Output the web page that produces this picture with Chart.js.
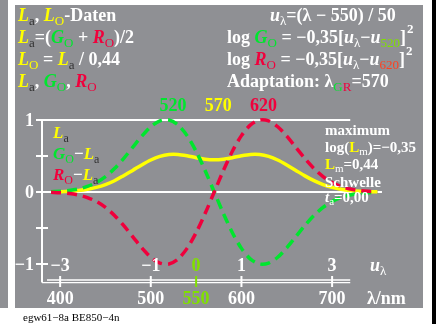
<!DOCTYPE html>
<html><head><meta charset="utf-8">
<script src="https://cdn.jsdelivr.net/npm/chart.js@4"></script>
<style>html,body{margin:0;padding:0;background:#fff;overflow:hidden}#c{display:block}</style>
</head><body>
<canvas id="c" width="436" height="324"></canvas>
<script>
// ---- data ----
const wavelengths = [390,400,410,420,430,440,450,460,470,480,490,500,510,520,530,540,550,560,570,580,590,600,610,620,630,640,650,660,670,680,690,700,710,720,730,740,750];
const La = [0.002,0.005,0.010,0.020,0.037,0.064,0.103,0.157,0.227,0.300,0.376,0.444,0.494,0.520,0.521,0.503,0.477,0.455,0.447,0.455,0.477,0.503,0.521,0.520,0.494,0.444,0.376,0.300,0.224,0.157,0.103,0.064,0.037,0.020,0.010,0.005,0.002];
const GoMinusLa = [0.005,0.010,0.021,0.041,0.077,0.132,0.215,0.326,0.465,0.620,0.775,0.906,0.987,1.000,0.932,0.783,0.565,0.296,0.000,-0.296,-0.565,-0.783,-0.932,-1.000,-0.987,-0.906,-0.775,-0.620,-0.465,-0.326,-0.215,-0.132,-0.077,-0.041,-0.021,-0.010,-0.005];
const RoMinusLa = [-0.005,-0.010,-0.021,-0.041,-0.077,-0.132,-0.215,-0.326,-0.465,-0.620,-0.775,-0.906,-0.987,-1.000,-0.932,-0.783,-0.565,-0.296,0.000,0.296,0.565,0.783,0.932,1.000,0.987,0.906,0.775,0.620,0.465,0.326,0.215,0.132,0.077,0.041,0.021,0.010,0.005];
const xTickValues = [400,500,550,600,700];
const xTickLabels = ['400','500','550','600','700'];
const uTickValues = [-3,-1,0,1,3];
const uTickLabels = ['\u22123','\u22121','0','1','3'];
const yTickValues = [1,0,-1];
const yTickLabels = ['1','0','\u22121'];
const yMinorTicks = [0.5,-0.5];
const peakWavelengths = [520,570,620];
const peakLabels = ['520','570','620'];

const YEL='#ffff00', GRN='#00e62e', RED='#f0003c', YG='#80e000', ORG='#ff4020', DK='#333333', WH='#ffffff';
const GREY='#8f9094';
const FONT='"Liberation Serif","Times New Roman",serif';

function runs(ctx, x, y, parts, size){
  for(const p of parts){
    const small = p.sub||p.sup;
    const sz = small ? Math.round(size*0.7) : size;
    ctx.font = (p.i?'italic ':'') + (p.n?'':'bold ') + sz + 'px ' + FONT;
    ctx.fillStyle = p.c || WH;
    const dy = p.sub ? size*0.22 : (p.sup ? -size*0.55 : 0);
    ctx.fillText(p.t, x, y+dy);
    x += ctx.measureText(p.t).width;
  }
  return x;
}

const deco = {
  id:'deco',
  beforeDraw(chart){
    const ctx = chart.ctx;
    ctx.save();
    ctx.fillStyle='#fff'; ctx.fillRect(0,0,436,324);
    ctx.fillStyle=GREY; ctx.fillRect(0,0,8,308);
    ctx.fillStyle=GREY; ctx.fillRect(15,5,408,303);
    ctx.fillStyle='#000'; ctx.fillRect(432,0,4,324);
    ctx.textBaseline='alphabetic'; ctx.textAlign='left';
    const S=18;
    runs(ctx,18,21,[{t:'L',i:1,c:YEL},{t:'a',sub:1,c:DK,n:1},{t:', '},{t:'L',i:1,c:YEL},{t:'O',sub:1,c:YEL,n:1},{t:'-Daten'}],S);
    runs(ctx,18,43,[{t:'L',i:1,c:YEL},{t:'a',sub:1,c:DK,n:1},{t:'=('},{t:'G',i:1,c:GRN},{t:'O',sub:1,c:GRN,n:1},{t:' + '},{t:'R',i:1,c:RED},{t:'O',sub:1,c:RED,n:1},{t:')/2'}],S);
    runs(ctx,18,65,[{t:'L',i:1,c:YEL},{t:'O',sub:1,c:YEL,n:1},{t:' = '},{t:'L',i:1,c:YEL},{t:'a',sub:1,c:DK,n:1},{t:' / 0,44'}],S);
    runs(ctx,18,87,[{t:'L',i:1,c:YEL},{t:'a',sub:1,c:DK,n:1},{t:', '},{t:'G',i:1,c:GRN},{t:'O',sub:1,c:GRN,n:1},{t:', '},{t:'R',i:1,c:RED},{t:'O',sub:1,c:RED,n:1}],S);
    runs(ctx,270,21,[{t:'u',i:1},{t:'\u03bb',sub:1,n:1},{t:'=(\u03bb \u2212 550) / 50'}],S);
    let x = runs(ctx,227,43,[{t:'log '},{t:'G',i:1,c:GRN},{t:'O',sub:1,c:GRN,n:1},{t:' = \u22120,35['},{t:'u',i:1},{t:'\u03bb',sub:1,n:1},{t:'\u2212'},{t:'u',i:1},{t:'520',sub:1,c:YG,n:1},{t:']'}],S);
    runs(ctx,x+1,43,[{t:'2',sup:1}],S);
    x = runs(ctx,227,65,[{t:'log '},{t:'R',i:1,c:RED},{t:'O',sub:1,c:RED,n:1},{t:' = \u22120,35['},{t:'u',i:1},{t:'\u03bb',sub:1,n:1},{t:'\u2212'},{t:'u',i:1},{t:'620',sub:1,c:ORG,n:1},{t:']'}],S);
    runs(ctx,x+1,65,[{t:'2',sup:1}],S);
    runs(ctx,227,87,[{t:'Adaptation: \u03bb'},{t:'G',sub:1,c:GRN,n:1},{t:'R',sub:1,c:RED,n:1},{t:'=570'}],S);
    // footer
    ctx.font='11px '+FONT; ctx.fillStyle='#000';
    ctx.fillText('egw61\u22128a BE850\u22124n',23,321);
    ctx.restore();
  },
  beforeDatasetsDraw(chart){
    const ctx=chart.ctx, xs=chart.scales.x, ys=chart.scales.y;
    ctx.save();
    ctx.strokeStyle=WH; ctx.fillStyle=WH;
    const ax = xs.getPixelForValue(380), xEnd = xs.getPixelForValue(720);
    const yBot = 282.5;
    ctx.lineWidth=2;
    ctx.beginPath(); ctx.moveTo(ax, ys.getPixelForValue(1)); ctx.lineTo(ax, yBot); ctx.stroke();
    ctx.beginPath(); ctx.moveTo(ax-6, ys.getPixelForValue(1)); ctx.lineTo(xEnd, ys.getPixelForValue(1)); ctx.stroke();
    ctx.beginPath(); ctx.moveTo(ax-6, ys.getPixelForValue(0)); ctx.lineTo(xs.getPixelForValue(755), ys.getPixelForValue(0)); ctx.stroke();
    for(const v of yMinorTicks.concat([-1])){
      const y=ys.getPixelForValue(v);
      ctx.beginPath(); ctx.moveTo(ax-6,y); ctx.lineTo(ax+6,y); ctx.stroke();
    }
    ctx.lineWidth=1.3;
    ctx.beginPath(); ctx.moveTo(ax+5,280); ctx.lineTo(xEnd,280); ctx.stroke();
    ctx.beginPath(); ctx.moveTo(ax,282.7); ctx.lineTo(xEnd,282.7); ctx.stroke();
    ctx.lineWidth=2;
    xTickValues.forEach((v)=>{
      const x=xs.getPixelForValue(v);
      ctx.strokeStyle = v===550 ? YG : WH;
      ctx.beginPath(); ctx.moveTo(x,276); ctx.lineTo(x,287); ctx.stroke();
    });
    ctx.restore();
  },
  afterDatasetsDraw(chart){
    const ctx=chart.ctx, xs=chart.scales.x, ys=chart.scales.y;
    ctx.save();
    ctx.textBaseline='alphabetic';
    ctx.font='bold 18px '+FONT; ctx.textAlign='right'; ctx.fillStyle=WH;
    yTickValues.forEach((v,i)=>{ ctx.fillText(yTickLabels[i], 34, ys.getPixelForValue(v)+6); });
    ctx.textAlign='center';
    xTickValues.forEach((v,i)=>{
      ctx.fillStyle = v===550 ? YG : WH;
      ctx.fillText(xTickLabels[i], xs.getPixelForValue(v), 304);
    });
    uTickValues.forEach((u,i)=>{
      ctx.fillStyle = u===0 ? YG : WH;
      ctx.fillText(uTickLabels[i], xs.getPixelForValue(550+50*u), 271);
    });
    ctx.textAlign='left';
    runs(ctx,370,271,[{t:'u',i:1},{t:'\u03bb',sub:1,n:1}],18);
    runs(ctx,367,304,[{t:'\u03bb/nm'}],18);
    ctx.textAlign='center'; ctx.font='bold 18px '+FONT;
    const pc=[GRN,YEL,RED];
    peakWavelengths.forEach((p,i)=>{ ctx.fillStyle=pc[i]; ctx.fillText(peakLabels[i], xs.getPixelForValue(p)+4, 111); });
    ctx.textAlign='left';
    runs(ctx,53,138,[{t:'L',i:1,c:YEL},{t:'a',sub:1,c:DK,n:1}],17);
    runs(ctx,53,159,[{t:'G',i:1,c:GRN},{t:'O',sub:1,c:GRN,n:1},{t:'\u2212'},{t:'L',i:1,c:YEL},{t:'a',sub:1,c:DK,n:1}],17);
    runs(ctx,53,180,[{t:'R',i:1,c:RED},{t:'O',sub:1,c:RED,n:1},{t:'\u2212'},{t:'L',i:1,c:YEL},{t:'a',sub:1,c:DK,n:1}],17);
    const A=15;
    runs(ctx,325,135,[{t:'maximum'}],A);
    runs(ctx,325,152,[{t:'log('},{t:'L',c:YEL},{t:'m',sub:1,n:1},{t:')=\u22120,35'}],A);
    runs(ctx,325,169,[{t:'L',c:YEL},{t:'m',sub:1,n:1},{t:'=0,44'}],A);
    runs(ctx,325,187,[{t:'Schwelle'}],A);
    runs(ctx,325,202,[{t:'t',i:1},{t:'a',sub:1,n:1},{t:'=0,00'}],A);
    ctx.restore();
  }
};

const pts = arr => wavelengths.map((w,i)=>({x:w,y:arr[i]}));
new Chart(document.getElementById('c'),{
  type:'line',
  data:{datasets:[
    {label:'Ro-La',data:pts(RoMinusLa),borderColor:RED,borderWidth:3.5,borderDash:[10,6],tension:0.3,pointRadius:0,fill:false,clip:false},
    {label:'Go-La',data:pts(GoMinusLa),borderColor:GRN,borderWidth:3.5,borderDash:[10,6],tension:0.3,pointRadius:0,fill:false,clip:false},
    {label:'La',data:pts(La),borderColor:YEL,borderWidth:3.5,tension:0.3,pointRadius:0,fill:false,clip:false}
  ]},
  options:{
    responsive:false, animation:false, devicePixelRatio:1,
    layout:{padding:{left:42,right:49.5,top:105.6,bottom:38.4}},
    scales:{
      x:{type:'linear',min:380,max:760,display:false},
      y:{type:'linear',min:-1.3,max:1.2,display:false}
    },
    plugins:{legend:{display:false},tooltip:{enabled:false}}
  },
  plugins:[deco]
});
</script>
</body></html>
